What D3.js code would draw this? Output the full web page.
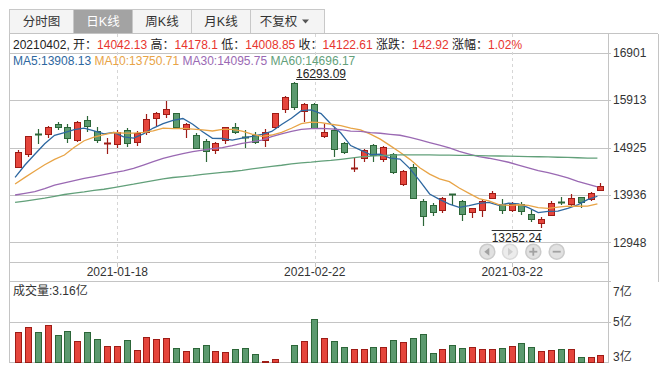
<!DOCTYPE html>
<html lang="zh">
<head>
    <meta charset="UTF-8">
    <title>日K线</title>
    <script src="https://d3js.org/d3.v7.min.js"></script>
    <style>
        body {
            margin: 0;
            background: #fff;
        }
        svg text {
            font-family: "Liberation Sans", Arial, "Noto Sans CJK SC", sans-serif;
            font-size: 12px;
            fill: #333;
        }
        .grid {
            stroke: #c4c4c4;
            stroke-width: 1;
            shape-rendering: crispEdges;
        }
        .vdash {
            stroke: #d6d6d6;
            stroke-dasharray: 3,3;
            shape-rendering: crispEdges;
        }
    </style>
</head>
<body>
    <svg width="665" height="372"></svg>
    <script>
        // trading days shown
        const dates = [
            "2021-01-04","2021-01-05","2021-01-06","2021-01-07","2021-01-08","2021-01-11","2021-01-12","2021-01-13","2021-01-14","2021-01-15",
            "2021-01-18","2021-01-19","2021-01-20","2021-01-21","2021-01-22","2021-01-25","2021-01-26","2021-01-27","2021-01-28","2021-01-29",
            "2021-02-01","2021-02-02","2021-02-03","2021-02-04","2021-02-05","2021-02-08","2021-02-09","2021-02-10","2021-02-18","2021-02-19",
            "2021-02-22","2021-02-23","2021-02-24","2021-02-25","2021-02-26","2021-03-01","2021-03-02","2021-03-03","2021-03-04","2021-03-05",
            "2021-03-08","2021-03-09","2021-03-10","2021-03-11","2021-03-12","2021-03-15","2021-03-16","2021-03-17","2021-03-18","2021-03-19",
            "2021-03-22","2021-03-23","2021-03-24","2021-03-25","2021-03-26","2021-03-29","2021-03-30","2021-03-31","2021-04-01","2021-04-02"
        ];
        const open = [
            14526,14783,15215,15200,15409,15346,15075,15492,15277,15022,
            14992,15284,15034,15256,15534,15618,15638,15319,15186,15054,
            14867,15075,15360,15140,15186,15075,15346,15722,16270,15687,
            15826,15173,15291,15013,14505,14700,14971,14679,14783,14171,
            14512,13817,13726,13615,13956,13810,13587,13629,13865,13740,
            13615,13745,13539,13351,13518,13795,13754,13886,13851,14042.13
        ];
        const high = [
            14873,15173,15312,15381,15458,15423,15478,15590,15360,15117,
            15291,15326,15270,15618,15659,15896,15652,15430,15221,15096,
            15040,15360,15444,15291,15256,15312,15652,16007,16293.09,15854,
            15847,15409,15326,15047,14714,14894,14992,14957,14804,14456,
            14575,13851,13775,13893,13962,13831,13671,13845,14018,13845,
            13796,13796,13622,13483,13810,13900,13949,13900,14004,14178.1
        ];
        const low = [
            14492,14728,14992,15117,15291,15013,15034,15256,15027,14783,
            14908,14943,14964,15186,15381,15534,15326,15117,14894,14616,
            14797,14992,15214,14908,14992,14943,15312,15638,15708,15465,
            15326,15117,14721,14797,14408,14616,14616,14616,14366,14123,
            13851,13295,13490,13552,13726,13400,13448,13483,13851,13532,
            13573,13518,13379,13252.24,13504,13726,13705,13671,13810,14008.85
        ];
        const close = [
            14825,15159,15205,15360,15346,15117,15465,15367,15075,15030,
            15256,15013,15235,15513,15638,15722,15360,15416,14922,14853,
            15027,15346,15242,15128,15034,15256,15638,15972,15777,15826,
            15339,15242,14894,14839,14515,14867,14769,14936,14422,14429,
            13865,13490,13573,13865,13928,13532,13657,13817,13970,13622,
            13745,13600,13427,13434,13765,13775,13870,13795,13979.69,14122.61
        ];
        // 成交量, 亿
        const volume = [
            4.43,4.71,4.43,4.82,4.26,4.49,3.93,4.43,4.04,3.66,
            3.66,3.99,3.43,4.15,4.04,4.10,3.54,3.38,3.54,3.71,
            3.38,3.32,3.49,3.54,3.21,2.84,2.94,2.79,3.71,3.93,
            5.15,4.10,3.93,3.60,3.49,3.49,3.60,3.60,3.99,3.88,
            4.10,4.34,3.27,3.49,3.71,3.54,3.60,3.49,3.49,3.54,
            3.66,3.82,3.60,3.38,3.43,3.49,3.49,3.05,3.05,3.16
        ];
        // moving average values before a full window exists
        const ma5Head = [14303, 14560, 14785, 15005];
        const ma10Head = [14164, 14303, 14435, 14567, 14679, 14769, 14930, 15067, 15140];
        const ma30Head = [
            13935,13970,14005,14070,14143,14190,14235,14283,14320,14360,
            14400,14440,14490,14560,14630,14700,14750,14800,14840,14870,
            14900,14925,14965,15010,15045,15080,15150,15210,15260
        ];
        const ma60Head = [
            13780,13808,13840,13870,13905,13945,13975,14000,14030,14055,
            14090,14125,14160,14200,14235,14270,14300,14320,14340,14365,
            14385,14405,14425,14450,14480,14505,14530,14555,14585,14605,
            14620,14640,14655,14680,14705,14730,14745,14755,14765,14770,
            14772,14770,14770,14768,14766,14763,14760,14757,14752,14748,
            14745,14740,14736,14733,14728,14722,14718,14712,14705
        ];
        const maNames = ["MA5", "MA10", "MA30", "MA60"];
        const maValues = ["13908.13", "13750.71", "14095.75", "14696.17"];
        const maColors = ["#2d67a0", "#e8a446", "#9a69b3", "#62a07a"];

        const priceTicks = [16901, 15913, 14925, 13936, 12948];
        const volTicks = [7, 5, 3];
        const dateTicks = ["2021-01-18", "2021-02-22", "2021-03-22"];
        const tabs = ["分时图", "日K线", "周K线", "月K线", "不复权"];

        const svg = d3.select("svg");
        const red = "#e5453c", redDark = "#9e1c16";
        const green = "#5c9a6f", greenDark = "#2c6638";

        const L = 9.5, R = 608, TOP = 33.5, AXT = 262.5, VT = 281.5, VB = 362.5;

        const x = d3.scaleBand()
            .domain(d3.range(dates.length))
            .range([13.7, 605.9])
            .paddingInner(0.28)
            .paddingOuter(0.14);
        const cx = i => x(i) + x.bandwidth() / 2;
        const y = d3.scaleLinear().domain([12948, 16901]).range([242.3, 52.8]);
        const yv = d3.scaleLinear().domain([2.77, 7.23]).range([362.3, 281.7]);

        // tabs
        const tabW = [64, 59, 59, 59, 74];
        let tx = 9.5;
        tabs.forEach((t, k) => {
            const g = svg.append("g");
            g.append("rect")
                .attr("x", tx).attr("y", 9.5)
                .attr("width", tabW[k]).attr("height", 24)
                .attr("fill", k === 1 ? "#a3a3a3" : "#f4f4f4")
                .attr("stroke", "#c8c8c8");
            g.append("text")
                .attr("x", k === 4 ? tx + tabW[k] / 2 - 9 : tx + tabW[k] / 2)
                .attr("y", 26)
                .attr("text-anchor", "middle")
                .style("font-size", "12.5px")
                .style("fill", k === 1 ? "#fff" : "#333")
                .text(t);
            if (k === 4) {
                g.append("path")
                    .attr("d", `M${tx + 51.5},19.5 L${tx + 58.5},19.5 L${tx + 55},23.5 Z`)
                    .attr("fill", "#555");
            }
            tx += tabW[k];
        });

        // frame
        const frame = [
            [L, TOP, 658, TOP], [L, TOP, L, VB], [R, TOP, R, VB], [658, TOP, 658, VT],
            [L, AXT, R, AXT], [L, VT, 611, VT], [L, VB, R, VB]
        ];
        svg.append("g").selectAll("line").data(frame).enter().append("line")
            .attr("class", "grid")
            .attr("x1", d => d[0]).attr("y1", d => d[1])
            .attr("x2", d => d[2]).attr("y2", d => d[3]);

        // price grid + labels
        svg.append("g").selectAll("line").data(priceTicks).enter().append("line")
            .attr("class", "grid")
            .attr("x1", L).attr("x2", 611)
            .attr("y1", d => Math.round(y(d)) + 0.5).attr("y2", d => Math.round(y(d)) + 0.5);
        svg.append("g").selectAll("text").data(priceTicks).enter().append("text")
            .attr("x", 613).attr("y", d => y(d)).attr("dy", "0.36em")
            .text(d => d);

        // volume grid + labels
        svg.append("line").attr("class", "grid")
            .attr("x1", L).attr("x2", 611)
            .attr("y1", Math.round(yv(5)) + 0.5).attr("y2", Math.round(yv(5)) + 0.5);
        svg.append("g").selectAll("text").data(volTicks).enter().append("text")
            .attr("x", 613)
            .attr("y", d => Math.min(Math.max(yv(d), VT + 10), VB - 6))
            .attr("dy", "0.36em")
            .text(d => d + "亿");

        // date ticks
        const dIdx = dateTicks.map(d => dates.indexOf(d));
        svg.append("g").selectAll("line").data(dIdx).enter().append("line")
            .attr("class", "vdash")
            .attr("x1", i => Math.round(cx(i)) + 0.5).attr("x2", i => Math.round(cx(i)) + 0.5)
            .attr("y1", TOP).attr("y2", AXT);
        svg.append("g").selectAll("line").data(dIdx).enter().append("line")
            .attr("class", "grid")
            .attr("x1", i => Math.round(cx(i)) + 0.5).attr("x2", i => Math.round(cx(i)) + 0.5)
            .attr("y1", AXT).attr("y2", AXT + 4);
        svg.append("g").selectAll("text").data(dIdx).enter().append("text")
            .attr("x", i => cx(i)).attr("y", 276)
            .attr("text-anchor", "middle")
            .text(i => dates[i]);

        // moving averages
        function movingAvg(n, head) {
            return close.map((c, i) => i >= n - 1 ? d3.mean(close.slice(i - n + 1, i + 1)) : head[i]);
        }
        const maSeries = [movingAvg(5, ma5Head), movingAvg(10, ma10Head), movingAvg(30, ma30Head), movingAvg(60, ma60Head)];
        const line = d3.line().x((v, i) => x(i)).y(v => y(v));

        // candles
        const candles = svg.append("g").selectAll("g").data(d3.range(dates.length)).enter().append("g");
        candles.each(function (i) {
            const g = d3.select(this);
            const up = close[i] >= open[i];
            const bx = Math.round(x(i));
            const yo = y(open[i]), yc = y(close[i]);
            const dark = up ? redDark : greenDark;
            g.append("line")
                .attr("x1", bx + 3.5).attr("x2", bx + 3.5)
                .attr("y1", Math.round(y(high[i]))).attr("y2", Math.round(y(low[i])))
                .attr("stroke", dark).attr("stroke-width", 1.2);
            if (Math.abs(yo - yc) < 2) {
                g.append("line")
                    .attr("x1", bx).attr("x2", bx + 7)
                    .attr("y1", Math.round(yo) + 0.5).attr("y2", Math.round(yo) + 0.5)
                    .attr("stroke", dark).attr("stroke-width", 2);
            } else {
                const top = Math.round(Math.min(yo, yc));
                const bot = Math.round(Math.max(yo, yc));
                g.append("rect")
                    .attr("x", bx + 0.5).attr("y", top + 0.5)
                    .attr("width", 6).attr("height", bot - top)
                    .attr("fill", up ? red : green)
                    .attr("stroke", dark);
            }
        });

        svg.append("g").selectAll("path").data(maSeries).enter().append("path")
            .attr("d", line)
            .attr("fill", "none")
            .attr("stroke", (d, k) => maColors[k])
            .attr("stroke-width", 1.3);

        // volume bars
        svg.append("g").selectAll("rect").data(volume).enter().append("rect")
            .attr("x", (v, i) => Math.round(x(i)) + 0.5)
            .attr("y", v => Math.round(yv(v)) + 0.5)
            .attr("width", 6)
            .attr("height", v => Math.max(0, Math.round(yv(2.77)) - Math.round(yv(v))))
            .attr("fill", (v, i) => close[i] >= open[i] ? red : green)
            .attr("stroke", (v, i) => close[i] >= open[i] ? redDark : greenDark);

        // highest / lowest markers
        const hi = d3.maxIndex(high), lo = d3.minIndex(low);
        const hiText = svg.append("text")
            .attr("x", cx(hi) + 1).attr("y", y(high[hi]) - 3.5)
            .style("fill", "#222")
            .text(high[hi].toFixed(2));
        const hw = hiText.node().getComputedTextLength();
        svg.append("line")
            .attr("x1", cx(hi) + 1).attr("x2", cx(hi) + 1 + hw)
            .attr("y1", Math.round(y(high[hi])) - 2.5).attr("y2", Math.round(y(high[hi])) - 2.5)
            .attr("stroke", "#333");
        const loText = svg.append("text")
            .attr("x", cx(lo)).attr("y", y(low[lo]) + 14.5)
            .attr("text-anchor", "end")
            .style("fill", "#222")
            .text(low[lo].toFixed(2));
        const lw = loText.node().getComputedTextLength();
        svg.append("line")
            .attr("x1", cx(lo) - lw).attr("x2", cx(lo))
            .attr("y1", Math.round(y(low[lo])) + 2.5).attr("y2", Math.round(y(low[lo])) + 2.5)
            .attr("stroke", "#333");

        // nav buttons
        const btnX = [487.3, 510, 533.3, 556.7];
        btnX.forEach((bxp, k) => {
            const g = svg.append("g").attr("transform", `translate(${bxp},251.7)`);
            g.append("circle").attr("r", 7.5)
                .attr("fill", k === 1 ? "#ececec" : "#e1e1e1")
                .attr("stroke", k === 1 ? "#dadada" : "#cbcbcb").attr("stroke-width", 1.5);
            const c = k === 1 ? "#cfcfcf" : "#a2a2a2";
            if (k === 0) g.append("path").attr("d", "M-3,0 L2,-4 L2,4 Z").attr("fill", c);
            if (k === 1) g.append("path").attr("d", "M3,0 L-2,-4 L-2,4 Z").attr("fill", c);
            if (k >= 2) g.append("rect").attr("x", -4).attr("y", -0.9).attr("width", 8).attr("height", 1.8).attr("fill", c);
            if (k === 2) g.append("rect").attr("x", -0.9).attr("y", -4).attr("width", 1.8).attr("height", 8).attr("fill", c);
        });

        // info line
        const n = dates.length - 1;
        const chg = close[n] - close[n - 1];
        const info = svg.append("text").attr("x", 13).attr("y", 48.5).attr("xml:space", "preserve");
        const valRed = "#e8352e";
        const parts = [
            [dates[n].replace(/-/g, "") + ", 开：", "#222"], [String(open[n]), valRed],
            [" 高：", "#222"], [String(high[n]), valRed],
            [" 低：", "#222"], [String(low[n]), valRed],
            [" 收：", "#222"], [String(close[n]), valRed],
            [" 涨跌：", "#222"], [chg.toFixed(2), valRed],
            [" 涨幅：", "#222"], [(chg / close[n - 1] * 100).toFixed(2) + "%", valRed]
        ];
        parts.forEach(p => info.append("tspan").style("fill", p[1]).text(p[0]));

        // MA legend
        const maText = svg.append("text").attr("x", 13).attr("y", 65).attr("xml:space", "preserve");
        maNames.forEach((m, k) => {
            maText.append("tspan").style("fill", maColors[k]).text((k ? " " : "") + m + ":" + maValues[k]);
        });

        svg.append("text").attr("x", 13).attr("y", 295).text("成交量:" + volume[n].toFixed(2) + "亿");
    </script>
</body>
</html>
